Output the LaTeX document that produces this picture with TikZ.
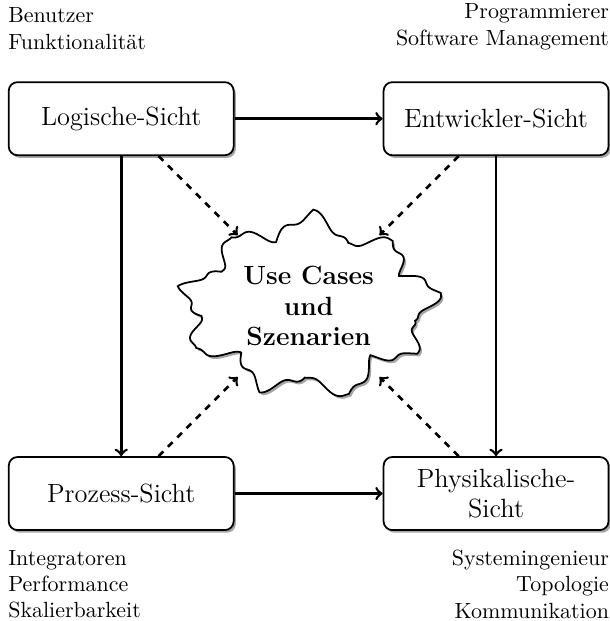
\documentclass[tikz,border=0pt]{standalone}
\usepackage{tikz}
\usetikzlibrary{positioning,shapes.geometric,shadows}
\newcommand{\spacingx}{3cm}
\newcommand{\spacingy}{3cm}

\begin{document}
\begin{tikzpicture}[auto, >=to,
  declare function={stern(\t)=0.2*asin(sin(9*\t+18))/90+0.06*sin(22*\t)+0.05*sin(4*\t+50);}]
  \tikzset{schatten/.style={drop shadow={shadow xshift=1pt, shadow yshift=-1.2pt, fill=black!35, opacity=1}}}
  \tikzset{sicht/.style={draw, thick, rounded corners=4pt, fill=white, minimum width=3.6cm, minimum height=1.17cm, align=center, font=\large, schatten}}
  \tikzset{wolke/.style={thick, fill=white, schatten}}
  \tikzset{szenario/.style={ellipse, minimum width=3.7cm, minimum height=2.85cm, inner sep=0pt, font=\large\bfseries, align=center}}
  \tikzset{rolle/.style={inner sep=0pt}}
  \tikzset{pfeil/.style={->, very thick}}
  \tikzset{hinweis/.style={->, very thick, dashed}}
  \useasboundingbox (-4.94,-5.04) rectangle (4.82,4.90);
  % gezackte Wolke um die Use Cases
  \draw[wolke] plot[domain=0:360, samples=361, variable=\x]
    ({(1.88+stern(\x))*cos(\x)}, {(1.27+stern(\x))*sin(\x)}) -- cycle;
  \node[szenario] (usecases) at (0,0) {Use Cases\\und\\Szenarien};
  \node[sicht] (logisch) at (-\spacingx, \spacingy) {Logische-Sicht};
  \node[sicht] (entwickler) at (\spacingx, \spacingy) {Entwickler-Sicht};
  \node[sicht] (prozess) at (-\spacingx, -\spacingy) {Prozess-Sicht};
  \node[sicht] (physisch) at (\spacingx, -\spacingy) {Physikalische-\\Sicht};
  % wer die jeweilige Sicht braucht
  \node[rolle, align=left, above=0.5cm of logisch.north west, anchor=south west] (benutzer) {Benutzer\\Funktionalität};
  \node[rolle, align=right, above=0.5cm of entwickler.north east, anchor=south east] (programmierer) {Programmierer\\Software Management};
  \node[rolle, align=left, below=0.3cm of prozess.south west, anchor=north west] (integratoren) {Integratoren\\Performance\\Skalierbarkeit};
  \node[rolle, align=right, below=0.3cm of physisch.south east, anchor=north east] (systemingenieur) {Systemingenieur\\Topologie\\Kommunikation};
  \draw (logisch) edge[pfeil] (entwickler);
  \draw (logisch) edge[pfeil] (prozess);
  \draw (entwickler) edge[pfeil] (physisch);
  \draw (prozess) edge[pfeil] (physisch);
  \draw (logisch) edge[hinweis] (usecases);
  \draw (entwickler) edge[hinweis] (usecases);
  \draw (prozess) edge[hinweis] (usecases);
  \draw (physisch) edge[hinweis] (usecases);
\end{tikzpicture}
\end{document}
